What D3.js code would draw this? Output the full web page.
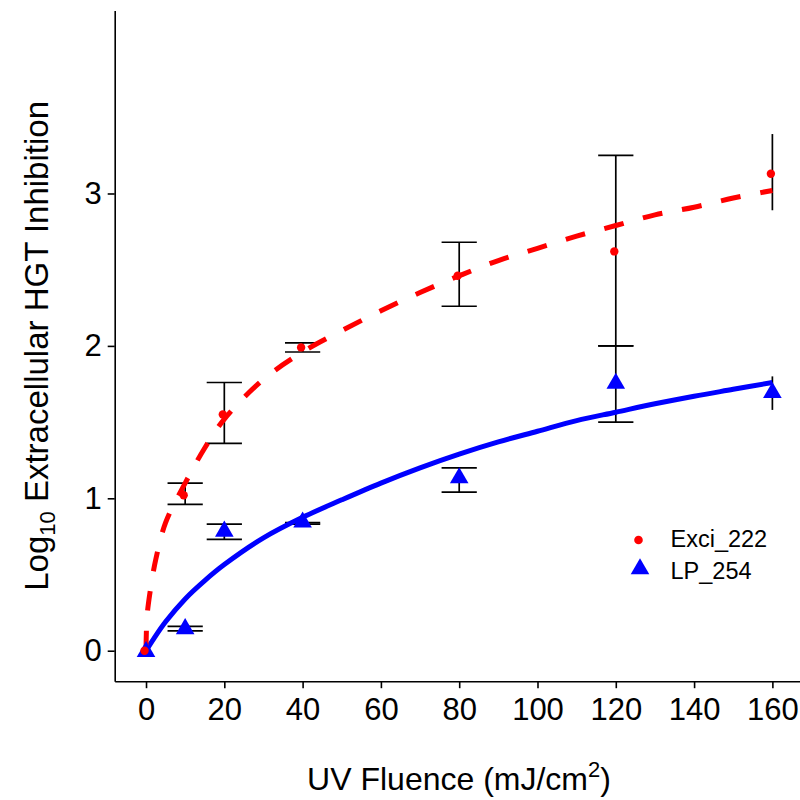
<!DOCTYPE html>
<html>
<head>
<meta charset="utf-8">
<script src="https://cdn.jsdelivr.net/npm/d3@7/dist/d3.min.js"></script>
<style>
  html, body { margin: 0; padding: 0; background: #fff; }
  svg { display: block; }
  text { font-family: "Liberation Sans", Arial, Helvetica, sans-serif; fill: #000; }
</style>
</head>
<body>
<svg id="chart" width="800" height="800"></svg>
<script>
// ---- data ----
const fluence = [0, 10, 20, 40, 80, 120, 160];
const exciMean = [0, 1.02, 1.55, 1.99, 2.46, 2.62, 3.13];
const exciLow  = [null, 0.96, 1.36, 1.96, 2.26, 2.00, 2.89];
const exciHigh = [null, 1.10, 1.76, 2.02, 2.68, 3.25, 3.39];
const lpMean = [0, 0.15, 0.79, 0.85, 1.14, 1.76, 1.70];
const lpLow  = [null, 0.13, 0.73, 0.83, 1.04, 1.50, 1.58];
const lpHigh = [null, 0.16, 0.83, 0.84, 1.20, 2.00, 1.80];
const hasCap = [true, true, true, true, true, true, false];

// fitted curves
const exciFitX = [0, 0.25, 1, 2.5, 5, 10, 15, 20, 30, 40, 50, 60, 70, 80, 90, 100, 110, 120, 130, 140, 150, 160];
const exciFitY = [0, 0.22, 0.38, 0.6, 0.84, 1.1, 1.33, 1.52, 1.78, 1.96, 2.1, 2.23, 2.35, 2.46, 2.56, 2.64, 2.72, 2.79, 2.86, 2.91, 2.97, 3.02];
const lpFitX = [0, 2, 5, 10, 15, 20, 30, 40, 50, 60, 70, 80, 90, 100, 110, 120, 130, 140, 150, 160];
const lpFitY = [0, 0.08, 0.19, 0.34, 0.46, 0.565, 0.74, 0.875, 0.99, 1.10, 1.20, 1.29, 1.37, 1.44, 1.51, 1.565, 1.62, 1.67, 1.715, 1.76];

const xTicks = [0, 20, 40, 60, 80, 100, 120, 140, 160];
const yTicks = [0, 1, 2, 3];
const seriesNames = ["Exci_222", "LP_254"];

// ---- layout ----
const svg = d3.select("#chart");
const x = d3.scaleLinear().domain([-8, 168]).range([114.7, 803.7]);
const y = d3.scaleLinear().domain([-0.2, 4.2]).range([681.2, 10.6]);

const RED = "#ff0000", BLUE = "#0000ff";

// axes
const xAxis = svg.append("g").attr("transform", `translate(0,${y(-0.2)})`)
  .call(d3.axisBottom(x).tickValues(xTicks).tickFormat(d3.format("d")).tickSize(7).tickPadding(5).tickSizeOuter(0));
const yAxis = svg.append("g").attr("transform", `translate(${x(-8)},0)`)
  .call(d3.axisLeft(y).tickValues(yTicks).tickFormat(d3.format("d")).tickSize(7).tickPadding(6).tickSizeOuter(0));
[xAxis, yAxis].forEach(g => {
  g.select(".domain").attr("stroke", "#000").attr("stroke-width", 1.6);
  g.selectAll(".tick line").attr("stroke", "#000").attr("stroke-width", 1.6);
  g.selectAll(".tick text").attr("font-size", 31).attr("font-family", "Liberation Sans, Arial, sans-serif").attr("fill", "#000");
});
xAxis.selectAll(".tick text").attr("dy", "0.88em");

// error bars
const capHalf = 4.5;
function errorBars(low, high) {
  const g = svg.append("g").attr("stroke", "#000").attr("stroke-width", 1.7).attr("fill", "none");
  fluence.forEach((f, i) => {
    if (low[i] === null) return;
    g.append("line").attr("x1", x(f)).attr("x2", x(f)).attr("y1", y(low[i])).attr("y2", y(high[i]));
    if (hasCap[i]) {
      g.append("line").attr("x1", x(f - capHalf)).attr("x2", x(f + capHalf)).attr("y1", y(low[i])).attr("y2", y(low[i]));
      g.append("line").attr("x1", x(f - capHalf)).attr("x2", x(f + capHalf)).attr("y1", y(high[i])).attr("y2", y(high[i]));
    }
  });
}
errorBars(exciLow, exciHigh);
errorBars(lpLow, lpHigh);

// fitted lines
const line = d3.line().x(d => x(d[0])).y(d => y(d[1])).curve(d3.curveCatmullRom.alpha(0.5));
svg.append("path").datum(lpFitX.map((v, i) => [v, lpFitY[i]]))
  .attr("d", line).attr("fill", "none").attr("stroke", BLUE).attr("stroke-width", 5);
svg.append("path").datum(exciFitX.map((v, i) => [v, exciFitY[i]]))
  .attr("d", line).attr("fill", "none").attr("stroke", RED).attr("stroke-width", 5)
  .attr("stroke-dasharray", "20,20");

// points
const tri = d3.symbol().type(d3.symbolTriangle).size(150);
svg.append("g").selectAll("path").data(fluence).join("path")
  .attr("d", tri).attr("fill", BLUE)
  .attr("transform", (d, i) => `translate(${x(d)},${y(lpMean[i]) + 1})`);
svg.append("g").selectAll("circle").data(fluence).join("circle")
  .attr("cx", (d) => x(d) - 1.5).attr("cy", (d, i) => y(exciMean[i])).attr("r", 4.2).attr("fill", RED);

// legend
const lg = svg.append("g");
lg.append("circle").attr("cx", 638.5).attr("cy", 540).attr("r", 4.3).attr("fill", RED);
lg.append("path").attr("d", tri).attr("fill", BLUE).attr("transform", "translate(640,569)");
lg.append("text").attr("x", 670.5).attr("y", 547).attr("font-size", 23.5).text(seriesNames[0]);
lg.append("text").attr("x", 670.5).attr("y", 578.5).attr("font-size", 23.5).text(seriesNames[1]);

// axis titles
const xt = svg.append("text").attr("x", 459).attr("y", 790).attr("text-anchor", "middle").attr("font-size", 32);
xt.append("tspan").text("UV Fluence (mJ/cm");
xt.append("tspan").attr("font-size", 22).attr("dy", -13).text("2");
xt.append("tspan").attr("dy", 13).text(")");

const yt = svg.append("text").attr("transform", `translate(48,${(y(-0.2) + y(4.2)) / 2}) rotate(-90)`)
  .attr("text-anchor", "middle").attr("font-size", 33);
yt.append("tspan").text("Log");
yt.append("tspan").attr("font-size", 22).attr("dy", 7).text("10");
yt.append("tspan").attr("dy", -7).text(" Extracellular HGT Inhibition");
</script>
</body>
</html>
